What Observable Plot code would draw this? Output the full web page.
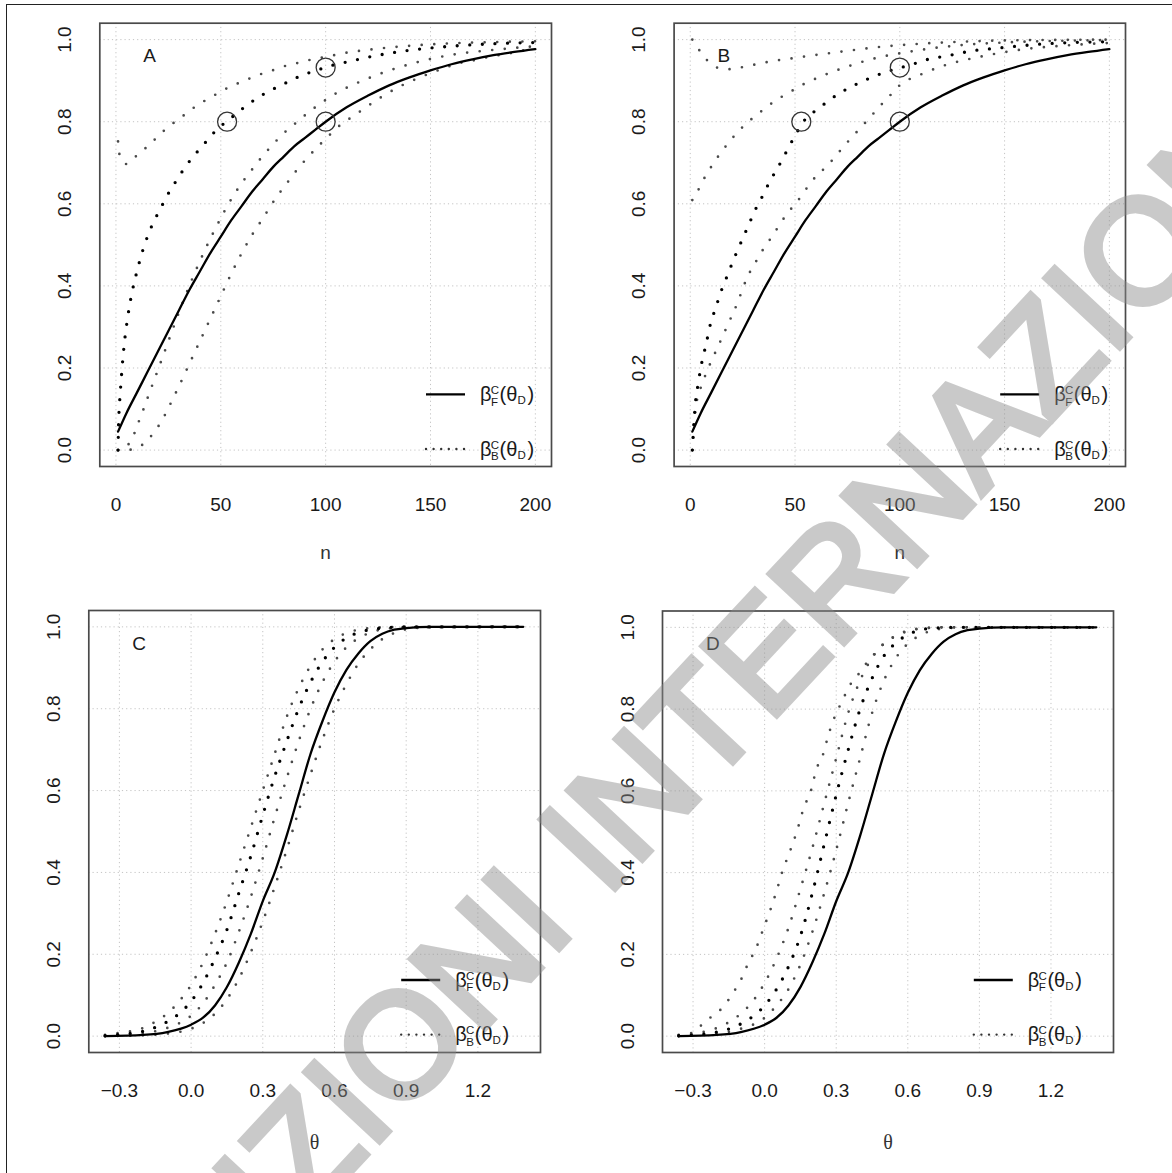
<!DOCTYPE html>
<html><head><meta charset="utf-8">
<script src="https://cdn.jsdelivr.net/npm/d3@7"></script>
<script src="https://cdn.jsdelivr.net/npm/@observablehq/plot@0.6"></script>
<style>
html,body{margin:0;padding:0;background:#fff;}
#page{position:relative;width:1172px;height:1173px;overflow:hidden;background:#fff;}
.panel{position:absolute;}
#border{position:absolute;left:6px;top:4px;width:1200px;height:1200px;border-left:1.6px solid #222;border-top:1.6px solid #222;pointer-events:none;}
#wm{position:absolute;left:0;top:0;pointer-events:none;}
</style></head><body><div id="page"><div id="border"></div></div>
<script>
// ---------- DATA ----------
const yTicks = [0, 0.2, 0.4, 0.6, 0.8, 1.0];
const nTicks = [0, 50, 100, 150, 200];
const thetaTicks = [-0.3, 0, 0.3, 0.6, 0.9, 1.2];

// Panel A (x = n, y = power)
const A_solid = [[1,0.045],[5,0.09],[10,0.14],[15,0.19],[20,0.24],[25,0.29],[30,0.34],[35,0.39],[40,0.435],[45,0.48],[50,0.52],[55,0.56],[60,0.595],[65,0.63],[70,0.66],[75,0.69],[80,0.715],[85,0.74],[90,0.76],[95,0.78],[100,0.80],[110,0.835],[120,0.863],[130,0.888],[140,0.908],[150,0.925],[160,0.94],[170,0.952],[180,0.962],[190,0.97],[200,0.977]];
const A_gray1 = [[1,0.752],[1.6,0.722],[4.8,0.697],[9.6,0.716],[14.2,0.736],[18.8,0.758],[23.3,0.78],[28.2,0.80],[33,0.818],[37.9,0.837],[43,0.853],[48.5,0.869],[53.9,0.884],[59.3,0.896],[65,0.908],[70.8,0.919],[76.5,0.928],[82.6,0.939],[88.5,0.945],[94.3,0.953],[100.4,0.958],[106.5,0.965],[120,0.975],[140,0.985],[160,0.991],[180,0.994],[200,0.996]];
const A_black = [[1,0.0],[1.3,0.073],[1.6,0.104],[2.2,0.15],[3,0.205],[4,0.26],[5.5,0.32],[7.5,0.38],[10,0.435],[13,0.49],[17,0.545],[21.4,0.59],[24.3,0.619],[27.4,0.645],[30.6,0.671],[34.1,0.697],[38,0.722],[42.1,0.746],[46.1,0.77],[50.2,0.79],[55.3,0.811],[60.1,0.831],[64.9,0.849],[70,0.866],[75.2,0.88],[80.8,0.894],[86.4,0.908],[91.9,0.919],[98,0.929],[103.6,0.938],[109.6,0.945],[125,0.962],[140,0.974],[160,0.984],[180,0.99],[200,0.993]];
const A_gray2 = [[1,0.0],[4,0.004],[6.1,0.015],[8.8,0.041],[11,0.071],[13.1,0.099],[16,0.14],[20,0.195],[25,0.265],[30,0.335],[35,0.40],[40,0.46],[45,0.515],[50,0.565],[52.6,0.59],[55.8,0.618],[59,0.643],[62.5,0.668],[66.2,0.692],[70.2,0.718],[74.1,0.74],[78.4,0.764],[82.9,0.785],[87.5,0.804],[92.3,0.825],[97.2,0.843],[102.3,0.861],[107.4,0.876],[120,0.905],[140,0.94],[160,0.963],[180,0.975],[200,0.984]];
const A_gray3 = [[1,0.0],[7,0.001],[12.6,0.013],[16.9,0.035],[20.6,0.061],[23.5,0.087],[26.2,0.115],[30,0.155],[35,0.21],[40,0.265],[45,0.32],[50,0.375],[55,0.43],[60,0.48],[65,0.525],[70,0.564],[73.2,0.59],[76.5,0.616],[80,0.64],[83.7,0.665],[87.6,0.691],[91.5,0.713],[95.6,0.736],[100.4,0.76],[104.7,0.782],[115,0.82],[125,0.855],[135,0.885],[145,0.908],[157.3,0.932],[163,0.942],[169.2,0.948],[175.2,0.955],[181.2,0.961],[187.2,0.966],[193.1,0.973],[200,0.977]];
const A_circles = [[53,0.80],[100,0.932],[100,0.80]];

// Panel B
const B_solid = [[1,0.045],[5,0.09],[10,0.14],[15,0.19],[20,0.24],[25,0.29],[30,0.34],[35,0.39],[40,0.435],[45,0.48],[50,0.52],[55,0.56],[60,0.595],[65,0.63],[70,0.66],[75,0.69],[80,0.715],[85,0.74],[90,0.76],[95,0.78],[100,0.80],[110,0.835],[120,0.863],[130,0.888],[140,0.908],[150,0.925],[160,0.94],[170,0.952],[180,0.962],[190,0.97],[200,0.977]];
const B_gray1 = [[1,1.0],[4.5,0.973],[8,0.95],[13.5,0.931],[19.5,0.928],[25,0.933],[31.6,0.94],[37.5,0.946],[43.3,0.951],[49.6,0.955],[56,0.96],[62,0.964],[74,0.972],[92,0.983],[110,0.99],[130,0.995],[150,0.998],[200,1.0]];
const B_gray2 = [[1,0.609],[4.5,0.64],[7.2,0.667],[10.5,0.694],[14.1,0.721],[17.7,0.745],[21.6,0.769],[25.6,0.79],[30.3,0.811],[34.8,0.829],[39.7,0.848],[44.7,0.864],[50.2,0.88],[55.4,0.895],[61.3,0.908],[67.1,0.92],[73.1,0.931],[79,0.941],[84.8,0.95],[91.1,0.958],[97.1,0.964],[110,0.975],[130,0.987],[150,0.993],[175,0.997],[200,0.999]];
const B_black = [[1,0.0],[1.8,0.07],[2.3,0.105],[4,0.168],[5,0.2],[6.3,0.231],[7.8,0.263],[9,0.294],[10.8,0.326],[13,0.36],[15.3,0.395],[17.7,0.425],[20,0.455],[22,0.48],[25,0.515],[28,0.55],[31,0.585],[34.6,0.62],[38,0.655],[42,0.69],[46,0.728],[50,0.766],[54,0.80],[60,0.828],[65.8,0.85],[71.3,0.87],[76.1,0.883],[81.5,0.897],[87.5,0.91],[93.8,0.922],[100,0.931],[106,0.94],[112,0.95],[123,0.961],[135,0.973],[146,0.979],[170,0.99],[200,0.995]];
const B_gray3 = [[1,0.0],[2.7,0.105],[6,0.165],[9.9,0.215],[12.6,0.245],[17.7,0.303],[23.1,0.366],[25.3,0.397],[28,0.429],[31,0.456],[34.3,0.485],[37.9,0.512],[41.5,0.54],[45.1,0.568],[49.1,0.594],[53.2,0.62],[56.8,0.647],[61,0.672],[65.3,0.692],[70,0.72],[75,0.75],[80,0.778],[85,0.806],[90,0.835],[95,0.862],[100,0.889],[110,0.915],[120,0.935],[140,0.96],[160,0.977],[180,0.986],[200,0.992]];
const B_circles = [[53,0.80],[100,0.932],[100,0.80]];

// Panel C (x = theta)
const C_solid = [[-0.36,0.0],[-0.2,0.003],[-0.1,0.01],[0,0.028],[0.05,0.045],[0.1,0.075],[0.15,0.12],[0.2,0.18],[0.25,0.25],[0.3,0.33],[0.35,0.40],[0.4,0.49],[0.45,0.59],[0.5,0.69],[0.55,0.77],[0.6,0.84],[0.65,0.895],[0.7,0.935],[0.75,0.965],[0.8,0.983],[0.85,0.993],[0.9,0.997],[1.0,1.0],[1.39,1.0]];
const C_gray1 = [[-0.36,0.003],[-0.3,0.008],[-0.2,0.02],[-0.15,0.035],[-0.1,0.055],[-0.05,0.085],[0,0.125],[0.05,0.18],[0.1,0.25],[0.15,0.33],[0.2,0.42],[0.25,0.51],[0.3,0.6],[0.35,0.69],[0.4,0.78],[0.45,0.85],[0.5,0.905],[0.55,0.945],[0.6,0.97],[0.65,0.985],[0.7,0.993],[0.8,0.999],[0.9,1.0],[1.39,1.0]];
const C_black = [[-0.36,0.001],[-0.3,0.004],[-0.2,0.012],[-0.1,0.035],[-0.05,0.055],[0,0.085],[0.05,0.13],[0.1,0.19],[0.15,0.26],[0.2,0.35],[0.25,0.44],[0.3,0.54],[0.35,0.635],[0.4,0.72],[0.45,0.80],[0.5,0.865],[0.55,0.915],[0.6,0.95],[0.65,0.973],[0.7,0.986],[0.8,0.997],[0.9,1.0],[1.39,1.0]];
const C_gray2 = [[-0.36,0.0],[-0.3,0.002],[-0.2,0.007],[-0.1,0.02],[0,0.05],[0.05,0.08],[0.1,0.125],[0.15,0.18],[0.2,0.255],[0.25,0.34],[0.3,0.435],[0.35,0.535],[0.4,0.63],[0.45,0.72],[0.5,0.80],[0.55,0.865],[0.6,0.915],[0.65,0.95],[0.7,0.972],[0.75,0.986],[0.8,0.994],[0.9,0.999],[1.39,1.0]];
const C_gray3 = [[-0.36,0.0],[-0.2,0.002],[-0.1,0.006],[0,0.018],[0.05,0.032],[0.1,0.055],[0.15,0.09],[0.2,0.14],[0.25,0.205],[0.3,0.28],[0.35,0.365],[0.4,0.455],[0.45,0.55],[0.5,0.64],[0.55,0.725],[0.6,0.80],[0.65,0.86],[0.7,0.91],[0.75,0.945],[0.8,0.97],[0.85,0.985],[0.9,0.994],[1.0,0.999],[1.39,1.0]];

// Panel D
const D_solid = [[-0.36,0.0],[-0.2,0.003],[-0.1,0.01],[0,0.028],[0.05,0.045],[0.1,0.075],[0.15,0.12],[0.2,0.18],[0.25,0.25],[0.3,0.33],[0.35,0.40],[0.4,0.49],[0.45,0.59],[0.5,0.69],[0.55,0.77],[0.6,0.84],[0.65,0.895],[0.7,0.935],[0.75,0.965],[0.8,0.983],[0.85,0.993],[0.9,0.997],[1.0,1.0],[1.39,1.0]];
const D_gray1 = [[-0.36,0.003],[-0.297,0.009],[-0.257,0.032],[-0.215,0.051],[-0.174,0.071],[-0.142,0.097],[-0.115,0.122],[-0.089,0.15],[-0.068,0.18],[-0.041,0.208],[-0.005,0.263],[0.027,0.314],[0.05,0.355],[0.074,0.402],[0.094,0.434],[0.121,0.476],[0.145,0.52],[0.164,0.559],[0.192,0.596],[0.216,0.651],[0.247,0.693],[0.266,0.734],[0.287,0.771],[0.311,0.803],[0.334,0.831],[0.358,0.859],[0.389,0.882],[0.421,0.908],[0.457,0.933],[0.492,0.956],[0.552,0.979],[0.602,0.991],[0.658,0.997],[0.75,1.0],[1.39,1.0]];
const D_gray2 = [[-0.36,0.002],[-0.3,0.006],[-0.2,0.02],[-0.1,0.055],[-0.05,0.085],[0,0.13],[0.05,0.19],[0.1,0.265],[0.15,0.36],[0.2,0.46],[0.25,0.57],[0.3,0.68],[0.35,0.79],[0.4,0.87],[0.45,0.925],[0.5,0.96],[0.55,0.98],[0.6,0.992],[0.65,0.997],[0.75,1.0],[1.39,1.0]];
const D_black = [[-0.36,0.001],[-0.3,0.003],[-0.2,0.01],[-0.1,0.03],[0,0.075],[0.05,0.115],[0.1,0.17],[0.15,0.245],[0.2,0.35],[0.25,0.47],[0.3,0.59],[0.35,0.70],[0.4,0.80],[0.45,0.875],[0.5,0.93],[0.55,0.962],[0.6,0.982],[0.65,0.993],[0.7,0.998],[0.8,1.0],[1.39,1.0]];
const D_gray3 = [[-0.36,0.0],[-0.3,0.002],[-0.2,0.006],[-0.1,0.018],[0,0.045],[0.05,0.075],[0.1,0.115],[0.15,0.175],[0.2,0.255],[0.25,0.35],[0.3,0.455],[0.35,0.57],[0.4,0.68],[0.45,0.79],[0.5,0.87],[0.55,0.925],[0.6,0.96],[0.65,0.98],[0.7,0.992],[0.75,0.997],[0.85,1.0],[1.39,1.0]];

const panelLetters = ["A", "B", "C", "D"];
const xTitles = ["n", "n", "θ", "θ"];
const legendSub = ["F", "B"];
const watermarkText = "EDIZIONI INTERNAZIONALI";

// ---------- DRAW ----------
const page = document.getElementById("page");
const FONT = "'Liberation Sans', Arial, Helvetica, sans-serif";
const GRID = {stroke: "#c4c4c4", strokeOpacity: 1, strokeDasharray: "1.2,3", strokeWidth: 1};
const DOT_GRAY = {stroke: "#4a4a4a", strokeWidth: 2.7, strokeDasharray: "0,12.6", strokeLinecap: "round"};
const DOT_BLACK = {stroke: "#000", strokeWidth: 3.3, strokeDasharray: "0,12.6", strokeLinecap: "round"};

function pts(arr, key) { return arr.map(([x, y]) => ({x, y, key})); }

function makePanel(cfg) {
  const [fx0, fx1, fy0, fy1] = cfg.frame;
  const left = cfg.left, top = cfg.top;
  const mL = fx0 - left, mT = fy0 - top, mR = 36, mB = 116;
  const width = Math.round(fx1 - left + mR), height = Math.round(fy1 - top + mB);
  const marks = [
    Plot.gridX(cfg.xTicks, GRID),
    Plot.gridY(yTicks, GRID),
    Plot.frame({stroke: "#4a4a4a", strokeWidth: 1.7}),
  ];
  for (const s of cfg.series) {
    const style = s.kind === "solid" ? {stroke: "#000", strokeWidth: 2.3} : s.kind === "black" ? DOT_BLACK : DOT_GRAY;
    marks.push(Plot.line(pts(s.data, s.kind), {x: "x", y: "y", curve: "monotone-x", ...style}));
  }
  if (cfg.circles) marks.push(Plot.dot(pts(cfg.circles, "c"), {x: "x", y: "y", r: 9.5, stroke: "#333", strokeWidth: 1.3, fill: "none"}));
  marks.push(
    Plot.axisX(cfg.xTicks, {tickSize: 0, tickPadding: 31, tickFormat: cfg.xFmt, label: null, fontSize: 19}),
    Plot.axisY(yTicks, {tickSize: 0, tickRotate: -90, tickPadding: 29, tickFormat: d3.format(".1f"), label: null, fontSize: 19}),
    Plot.text([cfg.letter], {frameAnchor: "top-left", dx: 43.5, dy: 25.5, text: d => d, fontSize: 19}),
    Plot.text([cfg.xTitle], {frameAnchor: "bottom", dy: cfg.titleDy, text: d => d, fontSize: cfg.xTitle === "θ" ? 20 : 19, fontFamily: cfg.xTitle === "θ" ? "'Liberation Serif', 'DejaVu Serif', serif" : FONT, fill: "#333"})
  );
  const svg = Plot.plot({
    width, height, marginLeft: mL, marginRight: mR, marginTop: mT, marginBottom: mB,
    x: {domain: cfg.xDomain}, y: {domain: [-0.04, 1.04]},
    style: {fontFamily: FONT, fontSize: "19px", color: "#1a1a1a", background: "transparent", overflow: "visible"},
    marks
  });
  // legend (inside the frame, bottom right)
  const xr = fx1 - left, yb = fy1 - top;
  const g = d3.select(svg).append("g").attr("font-family", FONT).attr("fill", "#1a1a1a").attr("text-anchor", "start");
  const lo = cfg.legendShift;
  const l1 = xr - 124.5 - lo, l2 = xr - 85.5 - lo, tx = xr - 70.5 - lo;
  const rows = [{y: yb - 72, sub: legendSub[0], solid: true}, {y: yb - 17.4, sub: legendSub[1], solid: false}];
  for (const r of rows) {
    const ln = g.append("line").attr("x1", l1).attr("x2", l2).attr("y1", r.y).attr("y2", r.y).attr("stroke", "#000");
    if (r.solid) ln.attr("stroke-width", 2.3);
    else ln.attr("stroke-width", 2.4).attr("stroke-dasharray", "0,7.6").attr("stroke-linecap", "round").attr("stroke", "#333");
    const b = r.y + 6.8;
    g.append("text").attr("x", tx).attr("y", b).attr("font-size", 20).text("β");
    g.append("text").attr("x", tx + 10.8).attr("y", b - 7.2).attr("font-size", 11.5).text("C");
    g.append("text").attr("x", tx + 11).attr("y", b + 4.6).attr("font-size", 11.5).text(r.sub);
    g.append("text").attr("x", tx + 19.6).attr("y", b).attr("font-size", 20).text("(θ");
    g.append("text").attr("x", tx + 37.4).attr("y", b + 2.8).attr("font-size", 11.5).text("D");
    g.append("text").attr("x", tx + 47.4).attr("y", b).attr("font-size", 20).text(")");
  }
  const div = document.createElement("div");
  div.className = "panel";
  div.style.left = left + "px"; div.style.top = top + "px";
  div.appendChild(svg);
  page.appendChild(div);
}

const fmtN = d3.format("d");
const fmtT = d3.format(".1f");

makePanel({letter: panelLetters[0], xTitle: xTitles[0], left: 0, top: 0, frame: [99.3, 550.5, 22.7, 466.4],
  xDomain: [-7.7, 207.7], xTicks: nTicks, xFmt: fmtN, titleDy: 92, legendShift: 0, circles: A_circles,
  series: [{kind: "gray", data: A_gray1}, {kind: "gray", data: A_gray2}, {kind: "gray", data: A_gray3}, {kind: "black", data: A_black}, {kind: "solid", data: A_solid}]});
makePanel({letter: panelLetters[1], xTitle: xTitles[1], left: 574, top: 0, frame: [673.6, 1124.7, 22.7, 466.4],
  xDomain: [-7.7, 207.7], xTicks: nTicks, xFmt: fmtN, titleDy: 92, legendShift: 0, circles: B_circles,
  series: [{kind: "gray", data: B_gray1}, {kind: "gray", data: B_gray2}, {kind: "gray", data: B_gray3}, {kind: "black", data: B_black}, {kind: "solid", data: B_solid}]});
makePanel({letter: panelLetters[2], xTitle: xTitles[2], left: 0, top: 586, frame: [88.3, 540.2, 610, 1052],
  xDomain: [-0.428, 1.462], xTicks: thetaTicks, xFmt: fmtT, titleDy: 96, legendShift: 14.5,
  series: [{kind: "gray", data: C_gray1}, {kind: "gray", data: C_gray2}, {kind: "gray", data: C_gray3}, {kind: "black", data: C_black}, {kind: "solid", data: C_solid}]});
makePanel({letter: panelLetters[3], xTitle: xTitles[3], left: 562, top: 586, frame: [662, 1113.3, 610.5, 1052],
  xDomain: [-0.428, 1.462], xTicks: thetaTicks, xFmt: fmtT, titleDy: 96, legendShift: 15,
  series: [{kind: "gray", data: D_gray1}, {kind: "gray", data: D_gray2}, {kind: "gray", data: D_gray3}, {kind: "black", data: D_black}, {kind: "solid", data: D_solid}]});

// watermark overlay
const wm = d3.select(page).append("svg").attr("id", "wm").attr("width", 1172).attr("height", 1173);
wm.append("g").attr("opacity", 0.45)
  .append("text")
  .attr("transform", "translate(752,664) rotate(-47)")
  .attr("text-anchor", "middle").attr("dy", "0.36em")
  .attr("font-family", FONT).attr("font-size", 148)
  .attr("fill", "#8a8a8a").attr("stroke", "#8a8a8a").attr("stroke-width", 6).attr("stroke-linejoin", "miter")
  .text(watermarkText);
</script></body></html>
